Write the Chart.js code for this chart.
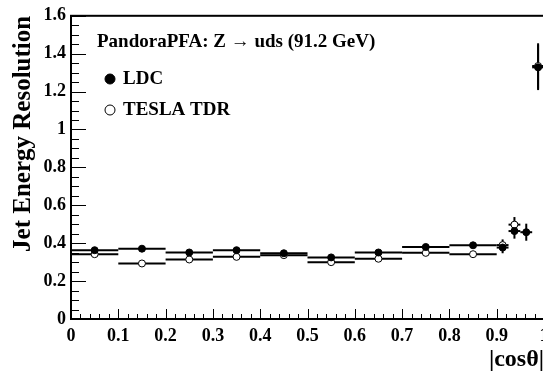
<!DOCTYPE html>
<html>
<head>
<meta charset="utf-8">
<script src="https://cdn.jsdelivr.net/npm/chart.js@4"></script>
<style>
  html, body { margin: 0; padding: 0; background: #fff; overflow: hidden; }
  #wrap { width: 560px; height: 374px; }
</style>
</head>
<body>
<div id="wrap"><canvas id="myChart" width="560" height="374"></canvas></div>
<script>
// bins in |cos theta| (0.1 wide, then 0.025 wide above 0.9)
const binCenters = [0.05, 0.15, 0.25, 0.35, 0.45, 0.55, 0.65, 0.75, 0.85, 0.9125, 0.9375, 0.9625, 0.9875];
const binHalfWidths = [0.05, 0.05, 0.05, 0.05, 0.05, 0.05, 0.05, 0.05, 0.05, 0.0125, 0.0125, 0.0125, 0.0125];

// LDC
const ldcValues = [0.363, 0.371, 0.351, 0.363, 0.347, 0.325, 0.351, 0.380, 0.389, 0.377, 0.464, 0.458, 1.328];
const ldcErrors = [0.008, 0.012, 0.008, 0.008, 0.006, 0.006, 0.008, 0.008, 0.008, 0.030, 0.040, 0.045, 0.120];

// TESLA TDR
const teslaValues = [0.342, 0.293, 0.314, 0.328, 0.337, 0.300, 0.318, 0.349, 0.342, 0.390, 0.498, null, 1.335];
const teslaErrors = [0.006, 0.006, 0.006, 0.006, 0.006, 0.006, 0.006, 0.006, 0.006, 0.030, 0.040, 0.045, 0.120];

const xTickValues = [0, 0.1, 0.2, 0.3, 0.4, 0.5, 0.6, 0.7, 0.8, 0.9, 1];
const xTickLabels = ['0', '0.1', '0.2', '0.3', '0.4', '0.5', '0.6', '0.7', '0.8', '0.9', '1'];
const yTickValues = [0, 0.2, 0.4, 0.6, 0.8, 1, 1.2, 1.4, 1.6];
const yTickLabels = ['0', '0.2', '0.4', '0.6', '0.8', '1', '1.2', '1.4', '1.6'];

const headerText = 'PandoraPFA: Z \u2192 uds (91.2 GeV)';
const serif = '"Liberation Serif", "Times New Roman", serif';

function points(values, errors) {
    return binCenters.map((x, i) => ({ x: x, y: values[i], xErr: binHalfWidths[i], yErr: errors[i] }));
}

// error bars, drawn under the markers
const errorBars = {
    id: 'errorBars',
    beforeDatasetsDraw(chart) {
        const ctx = chart.ctx;
        const xs = chart.scales.x, ys = chart.scales.y;
        ctx.save();
        ctx.strokeStyle = '#000';
        ctx.lineWidth = 2;
        chart.data.datasets.forEach(ds => {
            ds.data.forEach(p => {
                if (p.y === null) return;
                const py = ys.getPixelForValue(p.y);
                ctx.beginPath();
                ctx.moveTo(xs.getPixelForValue(p.x - p.xErr), py);
                ctx.lineTo(xs.getPixelForValue(p.x + p.xErr), py);
                ctx.stroke();
                const px = xs.getPixelForValue(p.x);
                ctx.beginPath();
                ctx.moveTo(px, ys.getPixelForValue(p.y - p.yErr));
                ctx.lineTo(px, ys.getPixelForValue(p.y + p.yErr));
                ctx.stroke();
            });
        });
        ctx.restore();
    }
};

// ROOT-like frame with inward ticks, and the legend box
const frame = {
    id: 'frame',
    afterDraw(chart) {
        const ctx = chart.ctx;
        const a = chart.chartArea;
        const xs = chart.scales.x, ys = chart.scales.y;
        ctx.save();
        ctx.strokeStyle = '#000';
        ctx.lineWidth = 1;
        ctx.beginPath();
        for (let v = 0; v <= 1.6001; v += 0.05) {
            const py = Math.round(ys.getPixelForValue(v)) + 0.5;
            const major = Math.abs(v / 0.2 - Math.round(v / 0.2)) < 1e-6;
            ctx.moveTo(a.left, py);
            ctx.lineTo(a.left + (major ? 15 : 8), py);
        }
        for (let v = 0; v <= 1.0001; v += 0.02) {
            const px = Math.round(xs.getPixelForValue(v)) + 0.5;
            const major = Math.abs(v / 0.1 - Math.round(v / 0.1)) < 1e-6;
            ctx.moveTo(px, a.bottom);
            ctx.lineTo(px, a.bottom - (major ? 10 : 5));
        }
        ctx.stroke();
        ctx.lineWidth = 2;
        ctx.strokeRect(a.left, a.top, a.right - a.left, a.bottom - a.top);

        // legend
        ctx.fillStyle = '#000';
        ctx.font = 'bold 19px ' + serif;
        ctx.textBaseline = 'middle';
        ctx.textAlign = 'left';
        ctx.fillText(headerText, 97, 42);
        chart.data.datasets.forEach((ds, i) => {
            const cy = 79 + i * 31;
            ctx.beginPath();
            ctx.arc(110, cy, 5, 0, Math.PI * 2);
            ctx.fillStyle = ds.pointBackgroundColor;
            ctx.fill();
            ctx.lineWidth = 1;
            ctx.strokeStyle = '#000';
            ctx.stroke();
            ctx.fillStyle = '#000';
            ctx.fillText(ds.label, 123, cy);
        });
        ctx.restore();
    }
};

const ctx = document.getElementById('myChart').getContext('2d');
new Chart(ctx, {
    type: 'scatter',
    data: {
        datasets: [{
            label: 'LDC',
            data: points(ldcValues, ldcErrors),
            order: 0, // drawn last, on top
            pointRadius: 3.5,
            pointBackgroundColor: '#000',
            pointBorderColor: '#000',
            pointBorderWidth: 1,
        }, {
            label: 'TESLA TDR',
            data: points(teslaValues, teslaErrors),
            order: 1,
            pointRadius: 3.5,
            pointBackgroundColor: '#fff',
            pointBorderColor: '#000',
            pointBorderWidth: 1,
        }],
    },
    options: {
        responsive: false,
        animation: false,
        layout: { padding: { top: 12, right: 16, left: 0, bottom: 0 } },
        plugins: { legend: { display: false }, tooltip: { enabled: false } },
        scales: {
            x: {
                type: 'linear',
                min: 0, max: 1,
                grid: { display: false, drawTicks: false },
                border: { display: false },
                afterBuildTicks: s => { s.ticks = xTickValues.map(v => ({ value: v })); },
                afterFit: s => { s.height = 55; },
                ticks: {
                    padding: 7,
                    color: '#000',
                    maxRotation: 0,
                    font: { family: serif, weight: 'bold', size: 18 },
                    callback: (v, i) => xTickLabels[i],
                },
                title: {
                    display: true,
                    text: '|cos\u03b8|',
                    align: 'end',
                    color: '#000',
                    padding: 0,
                    font: { family: serif, weight: 'bold', size: 24, lineHeight: 1.2 },
                },
            },
            y: {
                type: 'linear',
                min: 0, max: 1.6,
                grid: { display: false, drawTicks: false },
                border: { display: false },
                afterBuildTicks: s => { s.ticks = yTickValues.map(v => ({ value: v })); },
                afterFit: s => { s.width = 71; },
                ticks: {
                    padding: 5,
                    color: '#000',
                    font: { family: serif, weight: 'bold', size: 18 },
                    callback: (v, i) => yTickLabels[i],
                },
                title: {
                    display: true,
                    text: 'Jet Energy Resolution',
                    align: 'end',
                    color: '#000',
                    padding: { top: 9, bottom: 0 },
                    font: { family: serif, weight: 'bold', size: 25, lineHeight: 1.2 },
                },
            },
        },
    },
    plugins: [errorBars, frame],
});
</script>
</body>
</html>
